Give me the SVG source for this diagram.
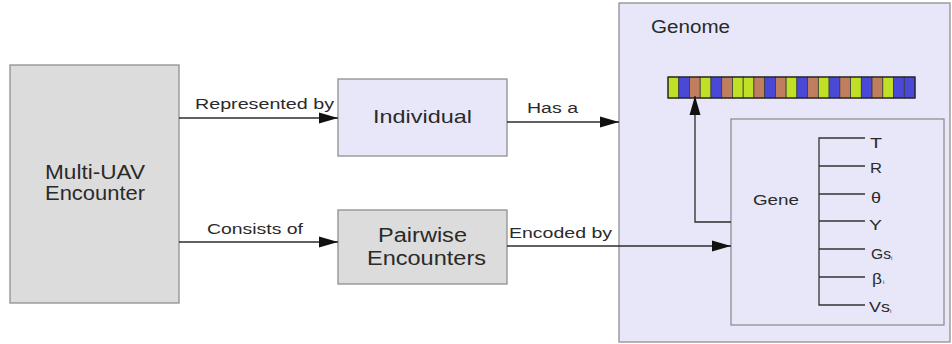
<svg xmlns="http://www.w3.org/2000/svg" width="952" height="344" viewBox="0 0 952 344">
  <style>
    .t { font-family: "Liberation Sans", Arial, sans-serif; fill: #2a2a2a; }
    .box { stroke: #8f8f8f; stroke-width: 1.3; }
    .gray { fill: #dcdcdc; }
    .lav { fill: #e7e7f9; }
    .edge { stroke: #2c2c2c; stroke-width: 1.3; fill: none; }
    .tree { stroke: #333; stroke-width: 1.3; fill: none; }
    .cell { stroke: #3a3a3a; stroke-width: 0.8; }
    .g { fill: #bfe024; }
    .b { fill: #4a48d6; }
    .r { fill: #c07e5e; }
    .sub { font-size: 6px; }
  </style>
  <defs>
    <marker id="arrow" markerUnits="userSpaceOnUse" markerWidth="19" markerHeight="12" refX="19" refY="6" orient="auto">
      <path d="M0,0.5 L19,6 L0,11.5 z" fill="#111"/>
    </marker>
  </defs>

  <rect width="952" height="344" fill="#ffffff"/>

  <!-- Genome container -->
  <g id="genome">
    <rect class="box lav" x="619" y="3" width="331" height="339"/>
    <text class="t" x="651" y="33" font-size="18" textLength="79" lengthAdjust="spacingAndGlyphs">Genome</text>
    <!-- chromosome strip -->
    <g id="chromosome">
      <rect class="cell g" x="668" y="77" width="10.74" height="21"/>
      <rect class="cell b" x="678.74" y="77" width="10.74" height="21"/>
      <rect class="cell r" x="689.48" y="77" width="10.74" height="21"/>
      <rect class="cell g" x="700.22" y="77" width="10.74" height="21"/>
      <rect class="cell b" x="710.96" y="77" width="10.74" height="21"/>
      <rect class="cell r" x="721.7" y="77" width="10.74" height="21"/>
      <rect class="cell g" x="732.44" y="77" width="10.74" height="21"/>
      <rect class="cell g" x="743.18" y="77" width="10.74" height="21"/>
      <rect class="cell r" x="753.92" y="77" width="10.74" height="21"/>
      <rect class="cell b" x="764.66" y="77" width="10.74" height="21"/>
      <rect class="cell r" x="775.4" y="77" width="10.74" height="21"/>
      <rect class="cell g" x="786.14" y="77" width="10.74" height="21"/>
      <rect class="cell b" x="796.88" y="77" width="10.74" height="21"/>
      <rect class="cell r" x="807.62" y="77" width="10.74" height="21"/>
      <rect class="cell g" x="818.36" y="77" width="10.74" height="21"/>
      <rect class="cell b" x="829.1" y="77" width="10.74" height="21"/>
      <rect class="cell r" x="839.84" y="77" width="10.74" height="21"/>
      <rect class="cell g" x="850.58" y="77" width="10.74" height="21"/>
      <rect class="cell b" x="861.32" y="77" width="10.74" height="21"/>
      <rect class="cell r" x="872.06" y="77" width="10.74" height="21"/>
      <rect class="cell g" x="882.8" y="77" width="10.74" height="21"/>
      <rect class="cell b" x="893.54" y="77" width="10.74" height="21"/>
      <rect class="cell b" x="904.28" y="77" width="10.74" height="21"/>
      <rect x="668" y="77" width="247" height="21" fill="none" stroke="#222" stroke-width="1.2"/>
    </g>
  </g>

  <!-- Gene with its parameter tree -->
  <g id="gene">
    <rect class="box lav" x="731" y="119" width="213" height="206"/>
    <text class="t" x="753" y="205" font-size="15" textLength="46" lengthAdjust="spacingAndGlyphs">Gene</text>
    <path class="tree" d="M865,138 H819 V305 H865 M819,166 H865 M819,194 H865 M819,221 H865 M819,249 H865 M819,277 H865"/>
    <g class="t" font-size="15">
      <text x="870" y="148" textLength="12" lengthAdjust="spacingAndGlyphs">T</text>
      <text x="870" y="173" textLength="12" lengthAdjust="spacingAndGlyphs">R</text>
      <text x="871" y="203" textLength="10" lengthAdjust="spacingAndGlyphs">θ</text>
      <text x="869" y="230" textLength="13" lengthAdjust="spacingAndGlyphs">Y</text>
      <text x="871" y="259"><tspan textLength="20" lengthAdjust="spacingAndGlyphs">Gs</tspan><tspan class="sub" dy="1">i</tspan></text>
      <text x="872" y="284"><tspan textLength="10" lengthAdjust="spacingAndGlyphs">β</tspan><tspan class="sub" dx="1">i</tspan></text>
      <text x="869" y="312"><tspan textLength="21" lengthAdjust="spacingAndGlyphs">Vs</tspan><tspan class="sub" dy="1">i</tspan></text>
    </g>
  </g>

  <g id="multi-uav">
    <rect class="box gray" x="10" y="65" width="169" height="238"/>
    <text class="t" x="45" y="179" font-size="20" textLength="100" lengthAdjust="spacingAndGlyphs">Multi-UAV</text>
    <text class="t" x="45" y="200" font-size="20" textLength="100" lengthAdjust="spacingAndGlyphs">Encounter</text>
  </g>

  <g id="individual">
    <rect class="box lav" x="338" y="79" width="169" height="77"/>
    <text class="t" x="373" y="123" font-size="19" textLength="99" lengthAdjust="spacingAndGlyphs">Individual</text>
  </g>

  <g id="pairwise">
    <rect class="box gray" x="338" y="210" width="169" height="74"/>
    <text class="t" x="378" y="242" font-size="20" textLength="89" lengthAdjust="spacingAndGlyphs">Pairwise</text>
    <text class="t" x="367" y="265" font-size="20" textLength="119" lengthAdjust="spacingAndGlyphs">Encounters</text>
  </g>

  <!-- Connectors -->
  <g id="connectors">
    <line class="edge" x1="179" y1="118" x2="338" y2="118" marker-end="url(#arrow)"/>
    <line class="edge" x1="179" y1="242" x2="338" y2="242" marker-end="url(#arrow)"/>
    <line class="edge" x1="507" y1="122" x2="619" y2="122" marker-end="url(#arrow)"/>
    <line class="edge" x1="507" y1="246" x2="731" y2="246" marker-end="url(#arrow)"/>
    <path class="edge" d="M731,222 H695 V96" marker-end="url(#arrow)"/>
    <g class="t" font-size="14">
      <text x="195" y="109" textLength="139" lengthAdjust="spacingAndGlyphs">Represented by</text>
      <text x="207" y="234" textLength="96" lengthAdjust="spacingAndGlyphs">Consists of</text>
      <text x="527" y="113" textLength="51" lengthAdjust="spacingAndGlyphs">Has a</text>
      <text x="509" y="238" textLength="103" lengthAdjust="spacingAndGlyphs">Encoded by</text>
    </g>
  </g>
</svg>
